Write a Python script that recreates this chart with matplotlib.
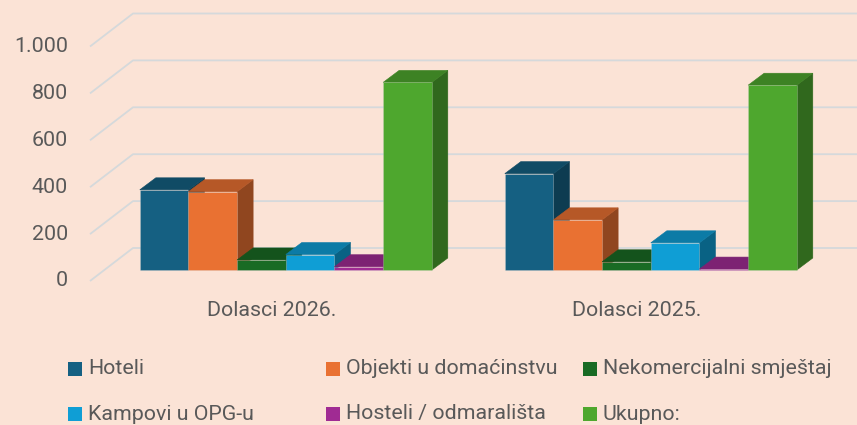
import numpy as np
import matplotlib.pyplot as plt
from matplotlib.patches import Polygon, Rectangle
from matplotlib.colors import to_rgb

# podaci
kategorije = ["Dolasci 2026.", "Dolasci 2025."]
serije = ["Hoteli", "Objekti u domaćinstvu", "Nekomercijalni smještaj",
          "Kampovi u OPG-u", "Hosteli / odmarališta", "Ukupno:"]
dolasci_2026 = [342, 334, 43, 66, 14, 800]
dolasci_2025 = [411, 214, 35, 116, 4, 788]
boje = ["#156082", "#E97132", "#196B24", "#0F9ED5", "#A02B93", "#4EA72E"]
y_ticks = [0, 200, 400, 600, 800, 1000]
y_tick_labels = ["0", "200", "400", "600", "800", "1.000"]

vrijednosti = [dolasci_2026, dolasci_2025]

W, H = 857, 425
pozadina = "#FBE3D6"
siva = "#595959"
plt.rcParams["font.family"] = ["Roboto", "DejaVu Sans"]

fig = plt.figure(figsize=(W / 100, H / 100), dpi=100, facecolor=pozadina)
ax = fig.add_axes([0, 0, 1, 1])
ax.set_facecolor(pozadina)
ax.axis("off")

# x u pikselima, y u jedinicama vrijednosti
PX = 1 / 0.2345          # jedinice po pikselu
y_nula = 270             # piksel gdje je 0 u ravnini stupaca
ax.set_xlim(0, W)
ax.set_ylim(-(H - y_nula) * PX, y_nula * PX)

# 3D pomaci
dub_x, dub_y = 16, 12 * PX          # dubina stupca
zid_x, zid_y = 133, 22 * PX         # straznji zid
rub_x, rub_y = 90, -11 * PX         # prednji rub lijevog zida

# mreza
for t, lab in zip(y_ticks, y_tick_labels):
    ax.plot([rub_x, zid_x, W], [t + rub_y, t + zid_y, t + zid_y],
            color="#D5D9DB", lw=1.3, zorder=1, solid_capstyle="butt")
    ax.text(68, t + rub_y, lab, ha="right", va="center", fontsize=15.4, color=siva)

# stupci
sirina = 365 / 7.5
centri = [285.8, 650.8]


def tamnija(c, f):
    return tuple(np.array(to_rgb(c)) * f)


for g, vals in enumerate(vrijednosti):
    start = centri[g] - 3 * sirina
    for i, v in enumerate(vals):
        x0 = start + i * sirina
        z = 2 + i * 0.1
        top = [(x0, v), (x0 + sirina, v), (x0 + sirina + dub_x, v + dub_y), (x0 + dub_x, v + dub_y)]
        side = [(x0 + sirina, 0), (x0 + sirina, v), (x0 + sirina + dub_x, v + dub_y),
                (x0 + sirina + dub_x, dub_y)]
        ax.add_patch(Polygon(side, closed=True, facecolor=tamnija(boje[i], 0.62),
                             edgecolor=tamnija(boje[i], 0.62), lw=0.4, zorder=z))
        ax.add_patch(Polygon(top, closed=True, facecolor=tamnija(boje[i], 0.78),
                             edgecolor=tamnija(boje[i], 0.78), lw=0.4, zorder=z))
        ax.bar(x0, v, width=sirina, align="edge", color=boje[i],
               edgecolor=(0.85, 0.85, 0.85, 0.35), lw=0.5, zorder=z + 0.05)
    ax.text(centri[g] - 14.3, -40 * PX, kategorije[g], ha="center", va="center",
            fontsize=15.4, color=siva)

# legenda
stupci_x = [68, 326, 583]
redovi_y = [369, 414]
for k, naziv in enumerate(serije):
    red, stup = divmod(k, 3)
    x = stupci_x[stup]
    y = redovi_y[red]
    fig.patches.append(Rectangle((x / W, 1 - (y + 6.8) / H), 13.6 / W, 13.6 / H,
                                 transform=fig.transFigure, facecolor=boje[k],
                                 edgecolor="none"))
    fig.text((x + 20) / W, 1 - y / H, naziv, ha="left", va="center",
             fontsize=15.4, color=siva)

fig.savefig("out.png", dpi=100, facecolor=pozadina)
